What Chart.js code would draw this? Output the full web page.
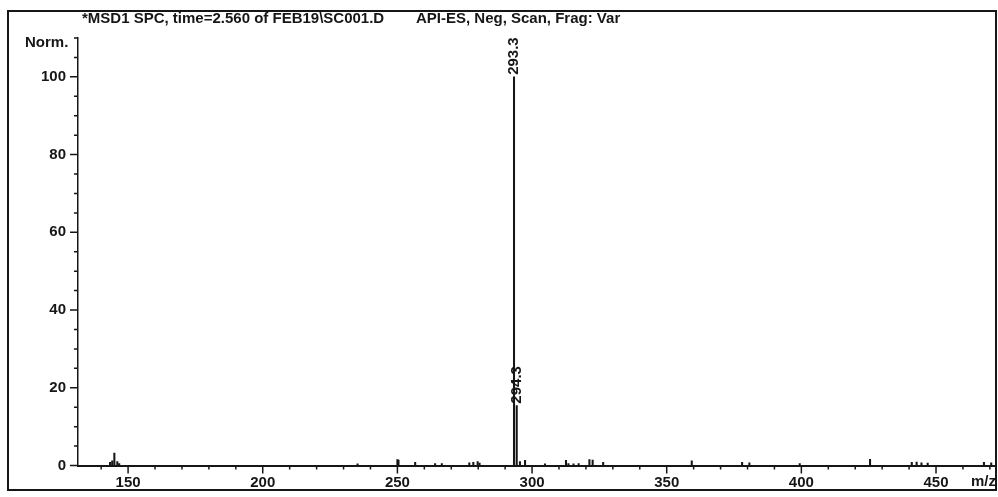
<!DOCTYPE html>
<html>
<head>
<meta charset="utf-8">
<script src="https://cdn.jsdelivr.net/npm/chart.js@4.4.1/dist/chart.umd.min.js"></script>
<style>
  html, body { margin: 0; padding: 0; background: #fff; }
  #wrap { width: 998px; height: 497px; }
</style>
</head>
<body>
<div id="wrap"><canvas id="spec" width="998" height="497"></canvas></div>
<script>
'use strict';

// scan header
const titleLeft = '*MSD1 SPC, time=2.560 of FEB19\\SC001.D';
const titleRight = 'API-ES, Neg, Scan, Frag: Var';

// peak list: m/z and normalised abundance (%)
const mz = [143.3, 144.1, 144.9, 146.0, 146.7, 235.2, 250.0, 250.4, 256.6, 264.0, 266.5,
  276.7, 278.2, 279.8, 280.5, 293.3, 294.3, 295.5, 297.4, 304.8, 312.6, 313.5, 315.4,
  317.3, 321.3, 322.5, 326.4, 359.3, 378.0, 380.7, 399.4, 425.5, 441.0, 442.8, 444.6,
  446.9, 467.8, 470.5];
const abundance = [0.8, 1.2, 3.2, 1.0, 0.5, 0.4, 1.5, 1.4, 0.8, 0.5, 0.5,
  0.7, 0.8, 1.0, 0.6, 100, 15.4, 1.0, 1.3, 0.4, 1.3, 0.5, 0.4,
  0.5, 1.5, 1.4, 0.8, 1.2, 0.8, 0.7, 0.5, 1.6, 0.8, 0.9, 0.7,
  0.6, 0.8, 0.7];
// peaks that get their m/z printed above them
const labelledPeaks = [293.3, 294.3];

// axis ticks
const xTicks = [140, 150, 160, 170, 180, 190, 200, 210, 220, 230, 240, 250, 260, 270, 280,
  290, 300, 310, 320, 330, 340, 350, 360, 370, 380, 390, 400, 410, 420, 430, 440, 450, 460, 470];
const xLabels = [150, 200, 250, 300, 350, 400, 450];
const yTicks = [0, 5, 10, 15, 20, 25, 30, 35, 40, 45, 50, 55, 60, 65, 70, 75, 80, 85, 90, 95, 100, 105, 110];
const yLabels = [0, 20, 40, 60, 80, 100];

const INK = '#161616';
const FAMILY = '"Liberation Sans", Arial, sans-serif';
const FONT = 'bold 15px ' + FAMILY;

const points = mz.map((x, i) => ({ x: x, y: abundance[i] }));

// frame, tick marks, header text and peak annotations
const decorations = {
  id: 'decorations',
  afterDraw(chart) {
    const ctx = chart.ctx;
    const area = chart.chartArea;
    const xs = chart.scales.x;
    const ys = chart.scales.y;

    ctx.save();
    ctx.strokeStyle = INK;
    ctx.fillStyle = INK;

    // outer frame
    ctx.lineWidth = 2;
    ctx.strokeRect(8, 11, 988, 479);

    // tick marks
    ctx.lineWidth = 1.5;
    ctx.beginPath();
    ys.ticks.forEach(t => {
      const py = ys.getPixelForValue(t.value);
      const len = yLabels.includes(t.value) ? 8 : 4;
      ctx.moveTo(area.left - len, py);
      ctx.lineTo(area.left, py);
    });
    xs.ticks.forEach(t => {
      const px = xs.getPixelForValue(t.value);
      const len = xLabels.includes(t.value) ? 8 : 4;
      ctx.moveTo(px, area.bottom);
      ctx.lineTo(px, area.bottom + len);
    });
    ctx.stroke();

    // header and axis captions
    ctx.font = FONT;
    ctx.textBaseline = 'middle';
    ctx.textAlign = 'left';
    ctx.fillText(titleLeft, 82, 19);
    ctx.fillText(titleRight, 416, 19);
    ctx.fillText('Norm.', 25, 43);
    ctx.fillText('m/z', 971, 482);

    // m/z labels above the tagged peaks, reading upwards
    const meta = chart.getDatasetMeta(0);
    labelledPeaks.forEach(v => {
      const bar = meta.data[mz.indexOf(v)];
      if (!bar) return;
      ctx.save();
      ctx.translate(bar.x, bar.y - 2);
      ctx.rotate(-Math.PI / 2);
      ctx.textAlign = 'left';
      ctx.textBaseline = 'middle';
      ctx.fillText(v.toFixed(1), 0, 0);
      ctx.restore();
    });
    ctx.restore();
  }
};

const ctx = document.getElementById('spec').getContext('2d');
new Chart(ctx, {
  type: 'bar',
  data: {
    datasets: [{
      data: points,
      backgroundColor: INK,
      borderWidth: 0,
      barThickness: 1.4,
      grouped: false
    }]
  },
  options: {
    responsive: false,
    animation: false,
    layout: { padding: { top: 38, right: 3, left: 0, bottom: 0 } },
    plugins: {
      legend: { display: false },
      tooltip: { enabled: false },
      title: { display: false }
    },
    scales: {
      x: {
        type: 'linear',
        min: 131.4,
        max: 471.9,
        offset: false,
        grid: { display: false, drawTicks: false },
        border: { display: true, color: INK, width: 2 },
        afterBuildTicks: s => { s.ticks = xTicks.map(v => ({ value: v })); },
        afterFit: s => { s.height = 31.5; },
        ticks: {
          autoSkip: false,
          maxRotation: 0,
          padding: 8,
          color: INK,
          font: { family: FAMILY, size: 15, weight: 'bold' },
          callback: v => xLabels.includes(v) ? String(v) : ''
        }
      },
      y: {
        min: 0,
        max: 110,
        grid: { display: false, drawTicks: false },
        border: { display: true, color: INK, width: 1.5 },
        afterBuildTicks: s => { s.ticks = yTicks.map(v => ({ value: v })); },
        afterFit: s => { s.width = 78; },
        ticks: {
          autoSkip: false,
          padding: 12,
          color: INK,
          font: { family: FAMILY, size: 15, weight: 'bold' },
          callback: v => yLabels.includes(v) ? String(v) : ''
        }
      }
    }
  },
  plugins: [decorations]
});
</script>
</body>
</html>
